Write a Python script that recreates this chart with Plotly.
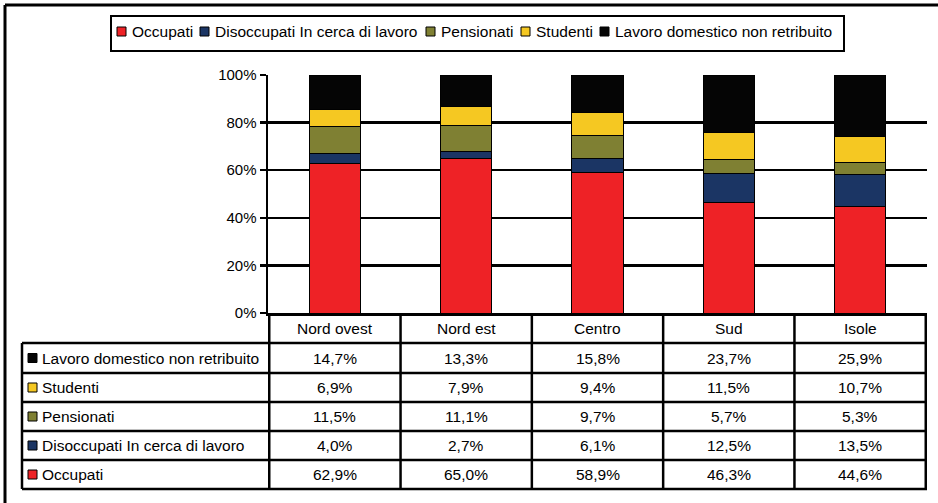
import plotly.graph_objects as go

categories = ["Nord ovest", "Nord est", "Centro", "Sud", "Isole"]
series_names = ["Occupati", "Disoccupati In cerca di lavoro", "Pensionati", "Studenti",
                "Lavoro domestico non retribuito"]
occupati = [62.9, 65.0, 58.9, 46.3, 44.6]
disoccupati = [4.0, 2.7, 6.1, 12.5, 13.5]
pensionati = [11.5, 11.1, 9.7, 5.7, 5.3]
studenti = [6.9, 7.9, 9.4, 11.5, 10.7]
lavoro_domestico = [14.7, 13.3, 15.8, 23.7, 25.9]
tick_vals = [0, 20, 40, 60, 80, 100]
tick_text = ["0%", "20%", "40%", "60%", "80%", "100%"]

series_values = [occupati, disoccupati, pensionati, studenti, lavoro_domestico]
colors = ["#EE2226", "#1B3564", "#7F8033", "#F5C822", "#050505"]

FONT = "Liberation Sans, Arial, sans-serif"
W, H = 938, 503
L, R, T, B = 268, 11, 75, 190
PW, PH = W - L - R, H - T - B


def px(xp):
    return (xp - L) / PW


def py(yp):
    return (H - B - yp) / PH


fig = go.Figure()
for name, vals, col in zip(series_names, series_values, colors):
    fig.add_trace(go.Bar(
        x=categories, y=vals, name=name,
        marker=dict(color=col, line=dict(color="#000000", width=1)),
        showlegend=False, hoverinfo="skip",
    ))

shapes = []
annotations = []

# outer frame (left and top visible)
shapes.append(dict(type="line", xref="paper", yref="paper", x0=px(5), x1=px(940), y0=py(5), y1=py(5),
                   line=dict(color="#000", width=3)))
shapes.append(dict(type="line", xref="paper", yref="paper", x0=px(5), x1=px(5), y0=py(5), y1=py(505),
                   line=dict(color="#000", width=3)))

# legend box
shapes.append(dict(type="rect", xref="paper", yref="paper", x0=px(111), x1=px(844), y0=py(16), y1=py(51),
                   line=dict(color="#000", width=2), fillcolor="rgba(0,0,0,0)"))
leg_x = [117, 200, 426, 521, 600]
for xs, name, col in zip(leg_x, series_names, colors):
    shapes.append(dict(type="rect", xref="paper", yref="paper", x0=px(xs), x1=px(xs + 9),
                       y0=py(27), y1=py(36), line=dict(color="#000", width=1), fillcolor=col))
    annotations.append(dict(xref="paper", yref="paper", x=px(xs + 13), y=py(31.5), text=name,
                            showarrow=False, xanchor="left", yanchor="middle",
                            font=dict(family=FONT, size=15.5, color="#000")))

# data table
row_y = [313, 343, 373, 402, 431, 460, 489]
tl, tr = 22, 927
lw = 2.5
for yv in row_y[1:]:
    shapes.append(dict(type="line", xref="paper", yref="paper", x0=px(tl), x1=px(tr), y0=py(yv), y1=py(yv),
                       line=dict(color="#000", width=lw)))
shapes.append(dict(type="line", xref="paper", yref="paper", x0=px(tl), x1=px(tl), y0=py(row_y[1]), y1=py(row_y[-1]),
                   line=dict(color="#000", width=lw)))
for k in range(len(categories) + 1):
    shapes.append(dict(type="line", xref="x", yref="paper", x0=k - 0.5, x1=k - 0.5,
                       y0=0, y1=py(row_y[-1]), line=dict(color="#000", width=lw)))

for cat in categories:
    annotations.append(dict(xref="x", yref="paper", x=cat, y=py((row_y[0] + row_y[1]) / 2), text=cat,
                            showarrow=False, xanchor="center", yanchor="middle",
                            font=dict(family=FONT, size=15.5, color="#000")))

order = list(range(len(series_names)))[::-1]
for r, si in enumerate(order):
    ycp = (row_y[r + 1] + row_y[r + 2]) / 2
    yc = py(ycp)
    shapes.append(dict(type="rect", xref="paper", yref="paper", x0=px(28), x1=px(37),
                       y0=py(ycp - 4.5), y1=py(ycp + 4.5), line=dict(color="#000", width=1),
                       fillcolor=colors[si]))
    annotations.append(dict(xref="paper", yref="paper", x=px(40), y=yc, text=series_names[si],
                            showarrow=False, xanchor="left", yanchor="middle",
                            font=dict(family=FONT, size=15.5, color="#000")))
    for cat, v in zip(categories, series_values[si]):
        annotations.append(dict(xref="x", yref="paper", x=cat, y=yc,
                                text=f"{v:.1f}%".replace(".", ","),
                                showarrow=False, xanchor="center", yanchor="middle",
                                font=dict(family=FONT, size=15.5, color="#000")))

fig.update_layout(
    width=W, height=H,
    margin=dict(l=L, r=R, t=T, b=B, pad=0),
    paper_bgcolor="#FFFFFF", plot_bgcolor="#FFFFFF",
    barmode="stack", bargap=0.61,
    showlegend=False,
    shapes=shapes, annotations=annotations,
    xaxis=dict(showticklabels=False, ticks="", showgrid=False, showline=True,
               linecolor="#000", linewidth=2.5, zeroline=False, fixedrange=True),
    yaxis=dict(range=[0, 100], tickvals=tick_vals, ticktext=tick_text,
               showgrid=True, gridcolor="#000", gridwidth=2.5,
               showline=True, linecolor="#000", linewidth=2.5,
               ticks="outside", ticklen=6, tickwidth=2.5, tickcolor="#000",
               zeroline=False, fixedrange=True,
               tickfont=dict(family=FONT, size=15, color="#000")),
    font=dict(family=FONT, color="#000"),
)

fig.write_html("out.html", config={"staticPlot": True},
               post_script="document.body.style.margin='0px';document.body.style.overflow='hidden';")
